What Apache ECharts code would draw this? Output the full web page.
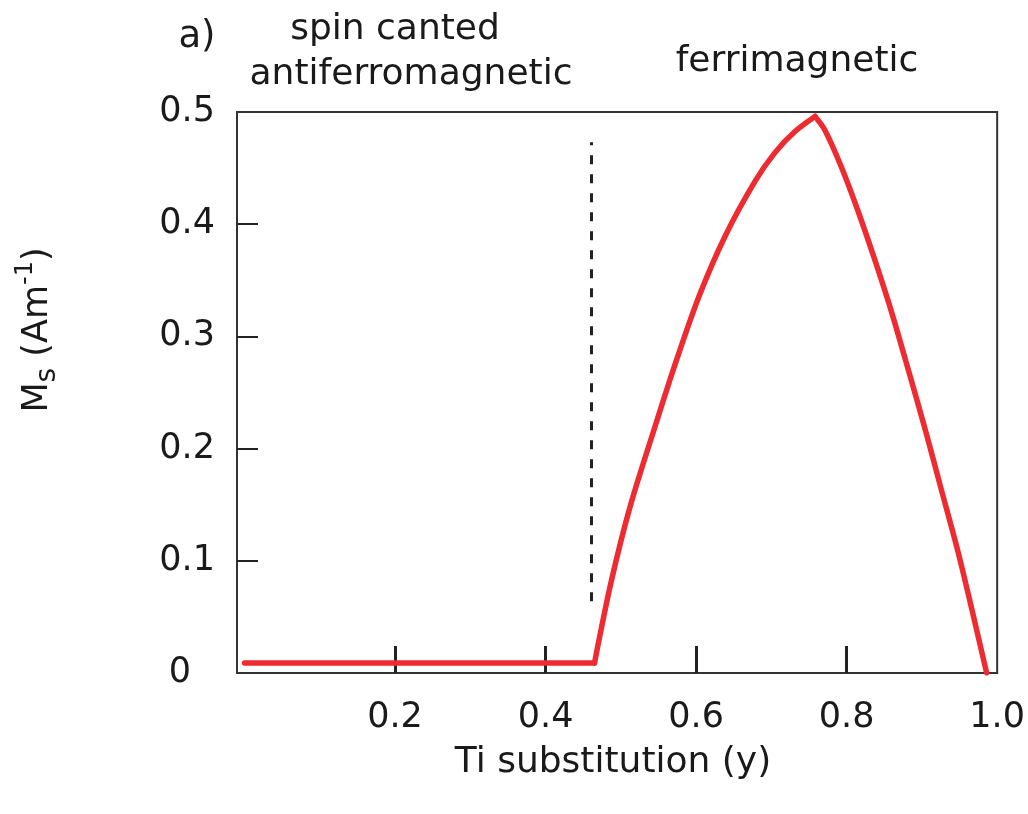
<!DOCTYPE html>
<html>
<head>
<meta charset="utf-8">
<script src="https://cdn.jsdelivr.net/npm/echarts@6/dist/echarts.min.js"></script>
<style>
html,body{margin:0;padding:0;background:#fff;}
#chart{width:1028px;height:814px;}
</style>
</head>
<body>
<div id="chart"></div>
<script>
// Ti substitution (y)
var tiValues = [0, 0.465, 0.487, 0.513, 0.547, 0.573, 0.604, 0.639, 0.679, 0.705, 0.732, 0.758, 0.771, 0.793, 0.815, 0.838, 0.860, 0.882, 0.904, 0.926, 0.948, 0.967, 0.986];
// Ms (Am^-1)
var msValues = [0.009, 0.009, 0.081, 0.150, 0.223, 0.277, 0.336, 0.390, 0.439, 0.464, 0.483, 0.496, 0.484, 0.451, 0.412, 0.367, 0.321, 0.270, 0.218, 0.163, 0.108, 0.055, 0.0];
// phase boundary (dashed)
var boundaryX = [0.461, 0.461];
var boundaryMs = [0.064, 0.473];
var xTickLabels = [0.2, 0.4, 0.6, 0.8, 1.0];
var xTicks = [0.2, 0.4, 0.6, 0.8];
var yTickLabels = [0, 0.1, 0.2, 0.3, 0.4, 0.5];
var yTicks = [0.1, 0.2, 0.3, 0.4];
var phaseLabels = ['a)', 'spin canted', 'antiferromagnetic', 'ferrimagnetic'];

var FONT = 'DejaVu Sans';
var chart = echarts.init(document.getElementById('chart'));
var curve = tiValues.map(function (x, i) { return [x, msValues[i]]; });
// split at the onset (index 1) and the peak (max value)
var peakIdx = msValues.indexOf(Math.max.apply(null, msValues));
var flatPart = curve.slice(0, 2);
var risePart = curve.slice(1, peakIdx + 1);
var fallPart = curve.slice(peakIdx);
var dashed = boundaryX.map(function (x, i) { return [x, boundaryMs[i]]; });

var RED = '#ee2b30';
function redSeries(data, smooth) {
  return { type: 'line', data: data, symbol: 'none', silent: true, smooth: smooth,
    lineStyle: { color: RED, width: 5.5, join: 'round', cap: 'round' } };
}

var option = {
  animation: false,
  backgroundColor: '#fff',
  grid: { left: 237, right: 29, top: 112, bottom: 141, show: true, borderColor: '#333', borderWidth: 2, backgroundColor: 'transparent' },
  xAxis: {
    type: 'value', min: -0.01, max: 1.0,
    axisLine: { show: true, onZero: false, lineStyle: { color: '#333', width: 2 } },
    splitLine: { show: false },
    axisTick: { show: true, inside: true, length: 27, customValues: xTicks, lineStyle: { color: '#222', width: 3 } },
    axisLabel: { customValues: xTickLabels, margin: 27, fontFamily: FONT, fontSize: 35, color: '#1a1a1a',
      formatter: function (v) { return v.toFixed(1); } }
  },
  yAxis: {
    type: 'value', min: 0, max: 0.5,
    axisLine: { show: true, onZero: false, lineStyle: { color: '#333', width: 2 } },
    splitLine: { show: false },
    axisTick: { show: true, inside: true, length: 21, customValues: yTicks, lineStyle: { color: '#222', width: 2 } },
    axisLabel: { customValues: yTickLabels, margin: 22, fontFamily: FONT, fontSize: 35, color: '#1a1a1a',
      formatter: function (v) { return v === 0 ? '{z|0}' : v.toFixed(1); },
      rich: { z: { fontFamily: FONT, fontSize: 35, color: '#1a1a1a', padding: [0, 24, 0, 0] } } }
  },
  graphic: [
    { type: 'text', x: 197, y: 37, style: { text: phaseLabels[0], font: '37px "' + FONT + '"', fill: '#1a1a1a', align: 'center', verticalAlign: 'middle' } },
    { type: 'text', x: 395, y: 30, style: { text: phaseLabels[1], font: '36px "' + FONT + '"', fill: '#1a1a1a', align: 'center', verticalAlign: 'middle' } },
    { type: 'text', x: 411, y: 75, style: { text: phaseLabels[2], font: '36px "' + FONT + '"', fill: '#1a1a1a', align: 'center', verticalAlign: 'middle' } },
    { type: 'text', x: 797, y: 62, style: { text: phaseLabels[3], font: '36px "' + FONT + '"', fill: '#1a1a1a', align: 'center', verticalAlign: 'middle' } },
    { type: 'text', x: 613, y: 763, style: { text: 'Ti substitution (y)', font: '36px "' + FONT + '"', fill: '#1a1a1a', align: 'center', verticalAlign: 'middle' } },
    { type: 'text', x: 38, y: 330, rotation: Math.PI / 2,
      style: { text: '{m|M}{s|s}{m| (Am}{p|-1}{m|)}', align: 'center', verticalAlign: 'middle',
        rich: {
          m: { font: '35px "' + FONT + '"', fill: '#1a1a1a', lineHeight: 48, verticalAlign: 'middle' },
          s: { font: '28px "' + FONT + '"', fill: '#1a1a1a', lineHeight: 48, verticalAlign: 'bottom' },
          p: { font: '24px "' + FONT + '"', fill: '#1a1a1a', lineHeight: 48, verticalAlign: 'top' }
        } } }
  ],
  series: [
    { type: 'line', data: dashed, symbol: 'none', silent: true,
      lineStyle: { color: '#222', width: 3, type: [9, 10] } },
    redSeries(flatPart, false),
    redSeries(risePart, 0.3),
    redSeries(fallPart, 0.3)
  ]
};
chart.setOption(option);
</script>
</body>
</html>
